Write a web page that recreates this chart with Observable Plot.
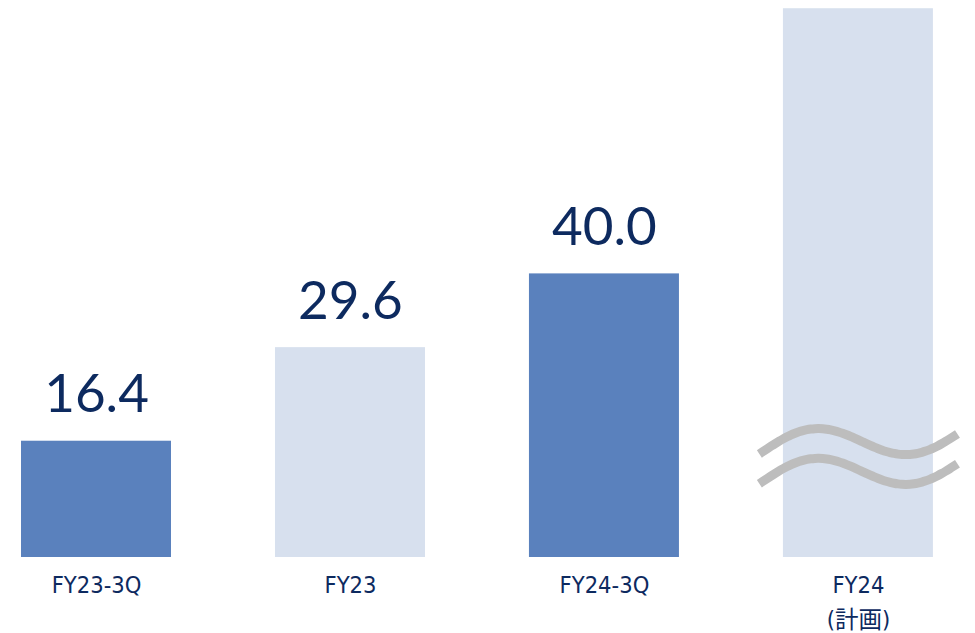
<!DOCTYPE html>
<html>
<head>
<meta charset="utf-8">
<script src="https://cdn.jsdelivr.net/npm/d3@7"></script>
<script src="https://cdn.jsdelivr.net/npm/@observablehq/plot@0.6"></script>
<style>
  html, body { margin: 0; padding: 0; background: #ffffff; }
  #chart svg { display: block; }
  #chart g[font-family*="DejaVu"], #chart g[font-family*="DejaVu"] text { font-stretch: condensed; }
</style>
</head>
<body>
<div id="chart"></div>
<script>
// ---- data ----
const categories = ["FY23-3Q", "FY23", "FY24-3Q", "FY24\n(計画)"];
const values = [16.4, 29.6, 40.0, 77.4];      // FY24 plan shown as a truncated (broken) bar
const valueLabels = ["16.4", "29.6", "40.0", ""];
const periodType = ["3Q", "FY", "3Q", "FY"];
const colors = { "3Q": "#5a81bd", "FY": "#d7e0ee" };
const brokenIndex = 3;

const data = categories.map((c, i) => ({
  i, cat: c, value: values[i], label: valueLabels[i], type: periodType[i]
}));

// break symbol (≈) drawn across the truncated bar: two tilted waves
const breakLevel = 16.3, breakGap = 4.2, breakAmp = 2.5, breakTilt = 3.6;
const breakHalf = 0.39, breakPeriod = 0.7795, breakPeak = brokenIndex - 0.181;
const wave = [];
for (const [k, base] of [[0, breakLevel], [1, breakLevel - breakGap]]) {
  for (const t of d3.range(0, 1.0001, 0.02)) {
    const u = brokenIndex - breakHalf + t * 2 * breakHalf;
    wave.push({
      k, u,
      y: base + breakTilt * (u - brokenIndex) +
         breakAmp * Math.cos(2 * Math.PI * (u - breakPeak) / breakPeriod)
    });
  }
}

const halfBar = 0.2953;
const navy = "#0d2a5f";

const chart = Plot.plot({
  width: 975,
  height: 633,
  marginTop: 0,
  marginBottom: 76,
  marginLeft: 0,
  marginRight: 0,
  x: { domain: [-0.378, 3.461], axis: null },
  y: { domain: [0, 78.56], axis: null },
  style: { fontFamily: "Lato, 'Noto Sans CJK JP', sans-serif", background: "#ffffff" },
  marks: [
    Plot.rectY(data, {
      x1: d => d.i - halfBar, x2: d => d.i + halfBar,
      y: "value", fill: d => colors[d.type]
    }),
    Plot.line(wave, {
      x: "u", y: "y", z: "k", stroke: "#bdbdbd", strokeWidth: 9,
      curve: "natural", strokeLinecap: "butt"
    }),
    Plot.text(data, {
      x: "i", y: "value", text: "label", fill: navy,
      fontSize: 53, lineAnchor: "bottom", dy: -29
    }),
    Plot.text(data, {
      x: "i", y: 0, text: "cat", fill: navy,
      fontSize: 23.5, lineAnchor: "top", lineHeight: 1.48, dy: 11,
      fontFamily: "'DejaVu Sans', 'Noto Sans CJK JP', sans-serif"
    })
  ]
});

document.getElementById("chart").appendChild(chart);
</script>
</body>
</html>
